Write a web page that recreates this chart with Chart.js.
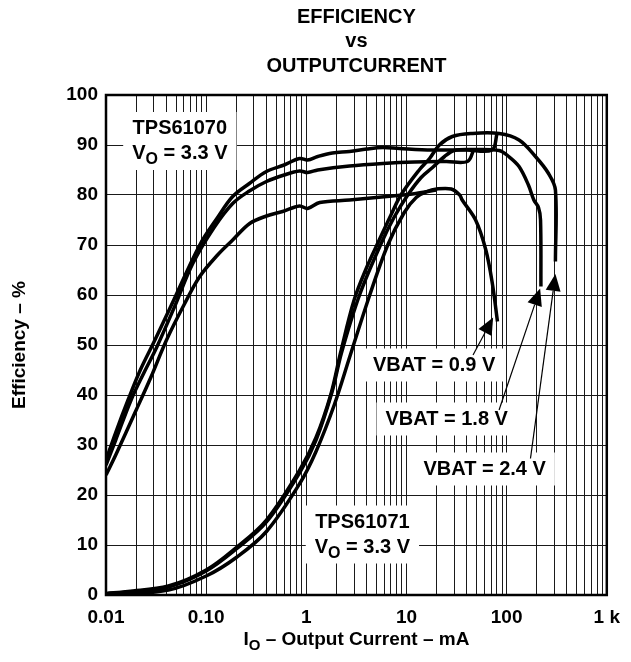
<!DOCTYPE html>
<html>
<head>
<meta charset="utf-8">
<script src="https://cdn.jsdelivr.net/npm/chart.js@4.4.1/dist/chart.umd.min.js"></script>
<style>
html, body { margin: 0; padding: 0; background: #fff; }
#box { width: 631px; height: 662px; }
</style>
</head>
<body>
<div id="box"><canvas id="effChart" width="631" height="662"></canvas></div>
<script>
// output current in mA, efficiency in %

// TPS61070, VO = 3.3 V
const tps61070Vbat24Io  = [0.01, 0.0125, 0.0166, 0.022, 0.0308, 0.045, 0.0863, 0.13, 0.184, 0.27, 0.4, 0.6, 0.855, 1.03, 1.3, 1.82, 2.7, 4.0, 5.8, 8.5, 18, 40, 71.5, 80];
const tps61070Vbat24Eff = [27, 32.5, 39, 45, 51, 58, 70, 75.5, 79.7, 82.3, 84.7, 86, 87.3, 87, 87.7, 88.4, 88.7, 89.2, 89.5, 89.3, 89, 89, 89, 92.2];

const tps61070Vbat18Io  = [0.01, 0.0125, 0.0178, 0.024, 0.032, 0.048, 0.0735, 0.12, 0.184, 0.27, 0.4, 0.6, 0.855, 1.03, 1.3, 2.7, 5.8, 12, 25, 40.6, 47];
const tps61070Vbat18Eff = [26, 31, 39, 44.5, 49.5, 57.5, 66.3, 73.5, 78.3, 80.8, 82.7, 84, 84.8, 84.5, 85, 85.8, 86.3, 86.6, 86.7, 86.7, 89.1];

const tps61070Vbat09Io  = [0.01, 0.0125, 0.0195, 0.028, 0.0402, 0.06, 0.0863, 0.13, 0.184, 0.272, 0.4, 0.579, 0.855, 1.03, 1.36, 2.7, 7.2, 12.4, 19.8];
const tps61070Vbat09Eff = [24, 28, 36.5, 43.5, 51, 58, 63.7, 68, 71, 74.3, 75.8, 76.7, 77.8, 77.3, 78.5, 79, 79.8, 80.3, 81];

// TPS61071, VO = 3.3 V
const tps61071Vbat24Io  = [0.01, 0.0166, 0.042, 0.1, 0.2, 0.4, 0.86, 1.25, 1.75, 2.2, 3.0, 4.0, 5.2, 7.0, 8.8, 13.4, 17, 21.3, 28.7, 44, 84, 133, 194, 262, 307, 307];
const tps61071Vbat24Eff = [0.3, 0.7, 1.8, 5, 9.5, 15, 25, 31.5, 40, 48.5, 59, 65.5, 70.5, 76, 80, 85, 87.3, 90, 91.7, 92.3, 92.3, 91, 87.7, 84.3, 81, 66.7];

const tps61071Vbat18Io  = [0.01, 0.0166, 0.042, 0.1, 0.2, 0.4, 0.86, 1.25, 1.8, 2.25, 3.4, 5.5, 7.5, 10.3, 14, 18.2, 24, 30, 45, 84, 105, 133, 165, 187, 208, 218, 220];
const tps61071Vbat18Eff = [0.2, 0.6, 1.6, 4.8, 9.2, 14.6, 24.5, 31, 40.5, 48.5, 60, 70, 75.5, 80, 83.5, 85.5, 87.7, 88.9, 89.1, 88.9, 87.7, 85.7, 82, 79, 77.5, 75, 61.7];

const tps61071Vbat09Io  = [0.01, 0.042, 0.1, 0.2, 0.4, 0.86, 1.25, 1.9, 2.75, 4.3, 6.5, 9.5, 12.5, 16, 20, 28, 34, 36, 49, 62, 72, 81];
const tps61071Vbat09Eff = [0, 1, 3.8, 7.5, 12.7, 22.3, 28.7, 38, 48, 60, 70, 76.5, 79.5, 80.7, 81.2, 81.2, 80, 79, 75, 69, 62.3, 54.7];

// axis ticks
const xTickValues = [0.01, 0.1, 1, 10, 100, 1000];
const xTickLabels = ['0.01', '0.10', '1', '10', '100', '1 k'];
const yTickValues = [0, 10, 20, 30, 40, 50, 60, 70, 80, 90, 100];

const titleLines = ['EFFICIENCY', 'vs', 'OUTPUTCURRENT'];

const FONT = '"Liberation Sans", Arial, Helvetica, sans-serif';

// labels inside the plot, anchored in data units (mA, %)
const notes = [
    { at: [0.0546, 90.8], lines: [[{ t: 'TPS61070' }], [{ t: 'V' }, { t: 'O', sub: true }, { t: ' = 3.3 V' }]] },
    { at: [3.63, 12.1], lines: [[{ t: 'TPS61071' }], [{ t: 'V' }, { t: 'O', sub: true }, { t: ' = 3.3 V' }]] },
    { at: [18.9, 46], lines: [[{ t: 'VBAT = 0.9 V' }]] },
    { at: [25.2, 35.2], lines: [[{ t: 'VBAT = 1.8 V' }]] },
    { at: [60.3, 25.2], lines: [[{ t: 'VBAT = 2.4 V' }]] }
];
const arrows = [
    { from: [46.2, 48], to: [73.3, 55.5] },
    { from: [84, 37], to: [216, 61.3] },
    { from: [173, 27.3], to: [307, 64.2] }
];

function pts(xs, ys) {
    return xs.map((x, i) => ({ x: x, y: ys[i] }));
}

// full log grid: 1..9 in every decade
let gridValues = [];
for (let d = 0.01; d < 999; d *= 10) {
    for (let m = 1; m <= 9; m++) gridValues.push(+(m * d).toPrecision(6));
}
gridValues.push(1000);

function drawRich(ctx, parts, cx, cy, size) {
    const big = 'bold ' + size + 'px ' + FONT;
    const small = 'bold ' + Math.round(size * 0.78) + 'px ' + FONT;
    let total = 0;
    parts.forEach(p => {
        ctx.font = p.sub ? small : big;
        p.w = ctx.measureText(p.t).width;
        total += p.w;
    });
    let x = cx - total / 2;
    ctx.textAlign = 'left';
    ctx.textBaseline = 'middle';
    parts.forEach(p => {
        ctx.font = p.sub ? small : big;
        ctx.fillText(p.t, x, p.sub ? cy + size * 0.32 : cy);
        x += p.w;
    });
    return total;
}

function richWidth(ctx, parts, size) {
    let w = 0;
    parts.forEach(p => {
        ctx.font = 'bold ' + (p.sub ? Math.round(size * 0.78) : size) + 'px ' + FONT;
        w += ctx.measureText(p.t).width;
    });
    return w;
}

const decorPlugin = {
    id: 'decor',
    afterDatasetsDraw(chart) {
        const ctx = chart.ctx;
        const xs = chart.scales.x, ys = chart.scales.y;
        const area = chart.chartArea;
        const size = 20, gap = 25;
        ctx.save();

        // white boxes + text
        notes.forEach(n => {
            const cx = xs.getPixelForValue(n.at[0]);
            const cy = ys.getPixelForValue(n.at[1]);
            let w = 0;
            n.lines.forEach(l => { w = Math.max(w, richWidth(ctx, l, size)); });
            const h = n.lines.length * gap + 8;
            ctx.fillStyle = '#fff';
            ctx.fillRect(cx - w / 2 - 9, cy - h / 2, w + 18, h);
            ctx.fillStyle = '#000';
            n.lines.forEach((l, i) => {
                const ly = cy - (n.lines.length - 1) * gap / 2 + i * gap;
                drawRich(ctx, l, cx, ly, size);
            });
        });

        // pointer lines with filled heads
        ctx.strokeStyle = '#000';
        ctx.fillStyle = '#000';
        arrows.forEach(a => {
            const x1 = xs.getPixelForValue(a.from[0]), y1 = ys.getPixelForValue(a.from[1]);
            const x2 = xs.getPixelForValue(a.to[0]), y2 = ys.getPixelForValue(a.to[1]);
            const ang = Math.atan2(y2 - y1, x2 - x1);
            const len = 17, half = 7.5;
            const bx = x2 - len * Math.cos(ang), by = y2 - len * Math.sin(ang);
            ctx.lineWidth = 1.2;
            ctx.beginPath();
            ctx.moveTo(x1, y1);
            ctx.lineTo(bx, by);
            ctx.stroke();
            ctx.beginPath();
            ctx.moveTo(x2, y2);
            ctx.lineTo(bx + half * Math.sin(ang), by - half * Math.cos(ang));
            ctx.lineTo(bx - half * Math.sin(ang), by + half * Math.cos(ang));
            ctx.closePath();
            ctx.fill();
        });

        // frame
        ctx.lineWidth = 2.5;
        ctx.strokeRect(area.left, area.top, area.right - area.left, area.bottom - area.top);
        ctx.restore();
    },
    afterDraw(chart) {
        const ctx = chart.ctx;
        const area = chart.chartArea;
        const midX = (area.left + area.right) / 2;
        const midY = (area.top + area.bottom) / 2;
        ctx.save();
        ctx.fillStyle = '#000';
        ctx.textAlign = 'center';
        ctx.textBaseline = 'middle';
        ctx.font = 'bold 20px ' + FONT;
        titleLines.forEach((t, i) => ctx.fillText(t, midX, 17 + i * 24.5));

        // y axis title
        ctx.save();
        ctx.translate(20, midY);
        ctx.rotate(-Math.PI / 2);
        ctx.font = 'bold 19px ' + FONT;
        ctx.fillText('Efficiency – %', 0, 0);
        ctx.restore();

        // x axis title
        drawRich(ctx, [{ t: 'I' }, { t: 'O', sub: true }, { t: ' – Output Current – mA' }], midX, 640, 19);
        ctx.restore();
    }
};

function lineSet(label, data) {
    return {
        label: label,
        data: data,
        borderColor: '#000',
        borderWidth: 3.5,
        pointRadius: 0,
        tension: 0.35,
        fill: false
    };
}

let chart;
document.addEventListener('DOMContentLoaded', () => {
    const ctx = document.getElementById('effChart').getContext('2d');
    chart = new Chart(ctx, {
        type: 'line',
        data: {
            datasets: [
                lineSet('TPS61070 VBAT = 2.4 V', pts(tps61070Vbat24Io, tps61070Vbat24Eff)),
                lineSet('TPS61070 VBAT = 1.8 V', pts(tps61070Vbat18Io, tps61070Vbat18Eff)),
                lineSet('TPS61070 VBAT = 0.9 V', pts(tps61070Vbat09Io, tps61070Vbat09Eff)),
                lineSet('TPS61071 VBAT = 2.4 V', pts(tps61071Vbat24Io, tps61071Vbat24Eff)),
                lineSet('TPS61071 VBAT = 1.8 V', pts(tps61071Vbat18Io, tps61071Vbat18Eff)),
                lineSet('TPS61071 VBAT = 0.9 V', pts(tps61071Vbat09Io, tps61071Vbat09Eff))
            ]
        },
        options: {
            responsive: false,
            animation: false,
            devicePixelRatio: 1,
            layout: { padding: { top: 95, right: 23, bottom: 0, left: 0 } },
            plugins: {
                legend: { display: false },
                tooltip: { enabled: false },
                title: { display: false }
            },
            scales: {
                x: {
                    type: 'logarithmic',
                    min: 0.01,
                    max: 1000,
                    afterBuildTicks: s => { s.ticks = gridValues.map(v => ({ value: v })); },
                    afterFit: s => { s.height = 67; },
                    grid: { color: '#1a1a1a', lineWidth: 1, drawTicks: false },
                    border: { display: false },
                    ticks: {
                        autoSkip: false,
                        maxRotation: 0,
                        padding: 11,
                        color: '#000',
                        font: { family: FONT, size: 19, weight: 'bold' },
                        callback: v => {
                            const i = xTickValues.findIndex(t => Math.abs(t - v) / t < 1e-6);
                            return i >= 0 ? xTickLabels[i] : '';
                        }
                    }
                },
                y: {
                    min: 0,
                    max: 100,
                    afterBuildTicks: s => { s.ticks = yTickValues.map(v => ({ value: v })); },
                    afterFit: s => { s.width = 106; },
                    grid: { color: '#1a1a1a', lineWidth: 1, drawTicks: false },
                    border: { display: false },
                    ticks: {
                        padding: 8,
                        color: '#000',
                        font: { family: FONT, size: 19, weight: 'bold' }
                    }
                }
            }
        },
        plugins: [decorPlugin]
    });
});
</script>
</body>
</html>
